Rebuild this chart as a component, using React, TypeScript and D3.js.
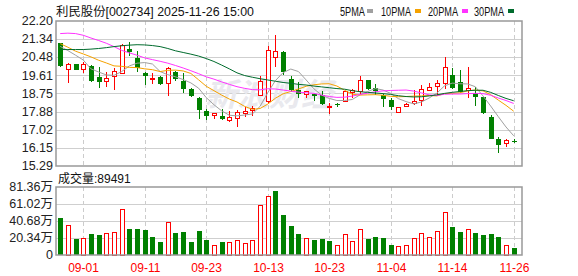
import React from 'react';
import * as d3 from 'd3';

const dates = ['08-27','08-28','08-29','09-01','09-02','09-03','09-04','09-05','09-08','09-09','09-10','09-11','09-12','09-15','09-16','09-17','09-18','09-19','09-22','09-23','09-24','09-25','09-26','09-29','09-30','10-09','10-10','10-13','10-14','10-15','10-16','10-17','10-20','10-21','10-22','10-23','10-24','10-27','10-28','10-29','10-30','10-31','11-03','11-04','11-05','11-06','11-07','11-10','11-11','11-12','11-13','11-14','11-17','11-18','11-19','11-20','11-21','11-24','11-25','11-26'];

const open = [21.16,19.90,20.14,19.90,20.04,19.53,19.33,19.55,19.71,20.85,20.44,19.72,19.44,19.52,19.23,19.77,19.33,18.98,18.53,17.90,17.70,17.66,17.48,17.53,17.80,17.94,18.66,18.36,20.44,20.73,19.44,18.93,18.69,18.72,18.67,18.12,18.23,18.34,18.77,18.85,19.37,19.01,18.66,18.44,17.86,18.13,18.26,18.42,18.90,19.09,19.20,19.63,19.29,18.87,18.77,18.58,17.62,16.58,16.37,16.50];
const high = [21.16,20.19,20.15,20.25,20.11,19.99,19.76,19.95,21.09,21.20,20.76,19.76,19.72,19.56,20.01,19.84,19.72,19.01,18.56,18.02,17.82,18.02,17.89,17.94,18.08,18.15,19.56,21.03,21.55,20.76,19.56,19.28,18.88,18.77,18.85,18.29,18.28,18.84,18.98,19.56,19.38,19.20,18.72,18.53,18.11,18.29,18.93,19.17,19.25,19.41,20.47,19.96,19.87,20.01,19.06,18.58,17.70,16.69,16.56,16.58];
const low = [20.03,19.26,19.87,19.74,19.28,19.02,19.07,18.93,19.69,20.52,19.77,19.17,19.20,19.17,18.64,19.33,18.77,18.58,17.55,17.47,17.55,17.50,17.37,17.16,17.64,17.67,18.64,18.31,20.00,19.64,18.82,18.53,18.53,18.40,18.18,17.78,18.12,18.32,18.53,18.69,18.91,18.66,18.09,17.97,17.85,18.12,18.21,18.13,18.85,18.69,18.98,18.98,18.77,18.53,18.15,17.78,16.58,15.92,16.21,16.38];
const close = [20.07,20.14,19.88,20.14,19.36,19.31,19.44,19.80,21.03,20.71,19.96,19.60,19.47,19.22,19.95,19.45,18.98,18.64,17.97,17.69,17.78,17.51,17.58,17.85,17.87,18.04,19.33,20.80,20.76,19.76,18.90,18.72,18.82,18.63,18.26,18.13,18.19,18.82,18.88,19.37,18.95,18.88,18.48,18.09,18.10,18.23,18.37,18.93,19.02,19.23,19.99,19.01,18.82,18.96,18.56,17.82,16.59,16.29,16.51,16.42];

// volume in 手
const volume = [445000,357000,195000,202000,250000,238000,258000,274000,548000,310000,310000,298000,214000,155000,389000,262000,274000,155000,286000,179000,115000,155000,151000,175000,139000,175000,596000,703000,762000,476000,345000,250000,202000,179000,191000,167000,119000,246000,167000,310000,191000,214000,202000,119000,107000,119000,202000,258000,214000,286000,508000,333000,274000,310000,262000,238000,250000,214000,119000,89491];

const ma5 = [20.99,20.79,20.57,20.34,19.92,19.77,19.63,19.61,19.79,20.06,20.19,20.22,20.15,19.79,19.64,19.54,19.41,19.25,19.00,18.55,18.21,17.92,17.71,17.68,17.72,17.77,18.13,18.78,19.36,19.74,19.91,19.79,19.39,18.97,18.67,18.51,18.41,18.41,18.46,18.68,18.84,18.98,18.91,18.75,18.50,18.36,18.25,18.34,18.53,18.76,19.11,19.24,19.21,19.20,19.07,18.63,18.15,17.64,17.15,16.73];
const ma10 = [21.12,20.95,20.76,20.63,20.49,20.33,20.20,20.06,20.04,19.99,19.98,19.92,19.88,19.79,19.85,19.86,19.82,19.70,19.40,19.09,18.88,18.67,18.48,18.34,18.13,17.99,18.03,18.24,18.52,18.73,18.84,18.96,19.09,19.16,19.20,19.21,19.10,18.90,18.71,18.67,18.68,18.69,18.66,18.61,18.59,18.60,18.62,18.63,18.65,18.63,18.74,18.75,18.78,18.87,18.91,18.87,18.69,18.43,18.18,17.90];
const ma20 = [21.60,21.62,21.60,21.52,21.39,21.27,21.14,20.98,20.80,20.68,20.57,20.44,20.36,20.28,20.19,20.08,19.96,19.83,19.69,19.54,19.43,19.30,19.18,19.07,18.99,18.93,18.92,18.97,18.96,18.91,18.86,18.81,18.78,18.75,18.67,18.60,18.56,18.57,18.62,18.70,18.76,18.83,18.87,18.89,18.90,18.91,18.86,18.77,18.68,18.65,18.71,18.72,18.72,18.74,18.75,18.74,18.66,18.53,18.41,18.27];
const ma30 = [20.84,20.84,20.84,20.84,20.86,20.89,20.93,20.98,21.02,21.05,21.07,21.06,21.03,20.98,20.89,20.78,20.70,20.62,20.53,20.41,20.27,20.10,19.92,19.73,19.60,19.52,19.45,19.39,19.33,19.27,19.23,19.18,19.15,19.10,19.06,19.02,18.98,18.95,18.88,18.83,18.80,18.77,18.74,18.70,18.64,18.60,18.58,18.59,18.63,18.68,18.75,18.80,18.84,18.88,18.90,18.90,18.80,18.65,18.51,18.40];

const priceTicks = [22.20,21.34,20.48,19.61,18.75,17.88,17.02,16.15,15.29];
const volTicks = [813600,610200,406800,203400,0];
const xTickDates = ['09-01','09-11','09-23','10-13','10-23','11-04','11-14','11-26'];

const maNames = ['5PMA','10PMA','20PMA','30PMA'];
const maColors = ['#a0a0a0','#f5a200','#ff33ff','#006b2d'];

const RED = '#ff0000';
const GREEN = '#008000';

export default function App() {
  const W = 578, H = 276;
  const L = 56, R = 522;
  const pTop = 21, pBot = 166;
  const vTop = 187, vBot = 255;

  const x = d3.scalePoint<string>().domain(dates).range([60.2, 513.7]);
  const y = d3.scaleLinear().domain([15.29, 22.20]).range([pBot, pTop]);
  const yv = d3.scaleLinear().domain([0, 813600]).range([vBot, vTop]);

  const cx = (i: number) => Math.round(x(dates[i]) as number) + 0.5;

  const lineGen = (arr: number[]) =>
    d3.line<number>().x((_, i) => x(dates[i]) as number).y(d => y(d))(arr) as string;

  const mas = [ma5, ma10, ma20, ma30];
  const font = '"Liberation Sans", Arial, "Noto Sans CJK SC", sans-serif';
  const legendX = [340, 381, 428, 474];
  const legendW = [25, 30, 30, 30];
  const legendSq = [367, 415, 462, 508];

  return (
    <svg width={W} height={H} style={{ position: 'fixed', left: 0, top: 0, background: '#fff' }} fontFamily={font}>
      <rect x={0} y={0} width={W} height={H} fill="#fff" />
      {/* title */}
      <text x={56} y={16} fontSize={12} fill="#111" textLength={198} lengthAdjust="spacingAndGlyphs">利民股份[002734] 2025-11-26 15:00</text>
      {maNames.map((n, k) => (
        <g key={n}>
          <text x={legendX[k]} y={16} fontSize={12} fill="#111" textLength={legendW[k]} lengthAdjust="spacingAndGlyphs">{n}</text>
          <rect x={legendSq[k]} y={9} width={6} height={4} fill={maColors[k]} />
        </g>
      ))}

      {/* price grid */}
      {priceTicks.map((t, k) => (
        <g key={'p' + k}>
          {k > 0 && k < priceTicks.length - 1 && (
            <line x1={L} x2={R} y1={Math.round(y(t)) + 0.5} y2={Math.round(y(t)) + 0.5} stroke="#cfcfcf" />
          )}
          <text x={53} y={y(t)} dy="0.35em" textAnchor="end" fontSize={12.5} fill="#222">{t.toFixed(2)}</text>
        </g>
      ))}
      {xTickDates.map(d => {
        const xx = Math.round(x(d) as number) + 0.5;
        return (
          <g key={'x' + d}>
            <line x1={xx} x2={xx} y1={pTop} y2={pBot} stroke="#cccccc" strokeDasharray="4,3" />
            <line x1={xx} x2={xx} y1={vTop} y2={vBot} stroke="#cccccc" strokeDasharray="4,3" />
            <text x={xx} y={272} textAnchor="middle" fontSize={12} fill={RED}>{d}</text>
          </g>
        );
      })}

      {/* watermark */}
      <text x={205} y={106} fontSize={32} fontWeight="bold" fontStyle="italic" fill="#e9e9ee" fontFamily='"Noto Sans CJK SC", sans-serif'>新浪财经</text>

      {/* candles */}
      {dates.map((d, i) => {
        const up = close[i] >= open[i];
        const c = up ? RED : GREEN;
        const xc = cx(i);
        const yT = y(Math.max(open[i], close[i]));
        const yB = y(Math.min(open[i], close[i]));
        const h = Math.max(1, yB - yT);
        return (
          <g key={'c' + i} shapeRendering="crispEdges">
            {up ? (
              <>
                <line x1={xc} x2={xc} y1={y(high[i])} y2={yT} stroke={c} />
                <line x1={xc} x2={xc} y1={yB} y2={y(low[i])} stroke={c} />
                <rect x={xc - 2} y={yT} width={4} height={h} fill="#fff" stroke={c} />
              </>
            ) : (
              <>
                <line x1={xc} x2={xc} y1={y(high[i])} y2={y(low[i])} stroke={c} />
                <rect x={xc - 2.5} y={yT} width={5} height={h} fill={c} />
              </>
            )}
          </g>
        );
      })}

      {/* moving averages */}
      {mas.map((arr, k) => (
        <path key={'ma' + k} d={lineGen(arr)} fill="none" stroke={maColors[k]} strokeWidth={1} />
      ))}

      {/* price border */}
      <rect x={L} y={pTop} width={R - L} height={pBot - pTop} fill="none" stroke="#999" strokeWidth={1.5} />

      {/* volume panel */}
      <text x={58} y={183} fontSize={12} fill="#111">成交量:{volume[volume.length - 1]}</text>
      {volTicks.map((t, k) => (
        <g key={'v' + k}>
          {k > 0 && k < volTicks.length - 1 && (
            <line x1={L} x2={R} y1={Math.round(yv(t)) + 0.5} y2={Math.round(yv(t)) + 0.5} stroke="#cfcfcf" />
          )}
          <text x={53} y={yv(t)} dy="0.35em" textAnchor="end" fontSize={12.5} fill="#222">
            {t === 0 ? '0' : (t / 10000).toFixed(2) + '万'}
          </text>
        </g>
      ))}
      {dates.map((d, i) => {
        const prev = i === 0 ? open[0] : close[i - 1];
        const up = close[i] >= prev;
        const c = up ? RED : GREEN;
        const xc = cx(i);
        const yT = yv(volume[i]);
        return up ? (
          <rect key={'vb' + i} x={xc - 2} y={yT} width={4} height={vBot - yT} fill="#fff" stroke={c} shapeRendering="crispEdges" />
        ) : (
          <rect key={'vb' + i} x={xc - 2.5} y={yT} width={5} height={vBot - yT} fill={c} shapeRendering="crispEdges" />
        );
      })}
      <rect x={L} y={vTop} width={R - L} height={vBot - vTop} fill="none" stroke="#999" strokeWidth={1.5} />
    </svg>
  );
}
